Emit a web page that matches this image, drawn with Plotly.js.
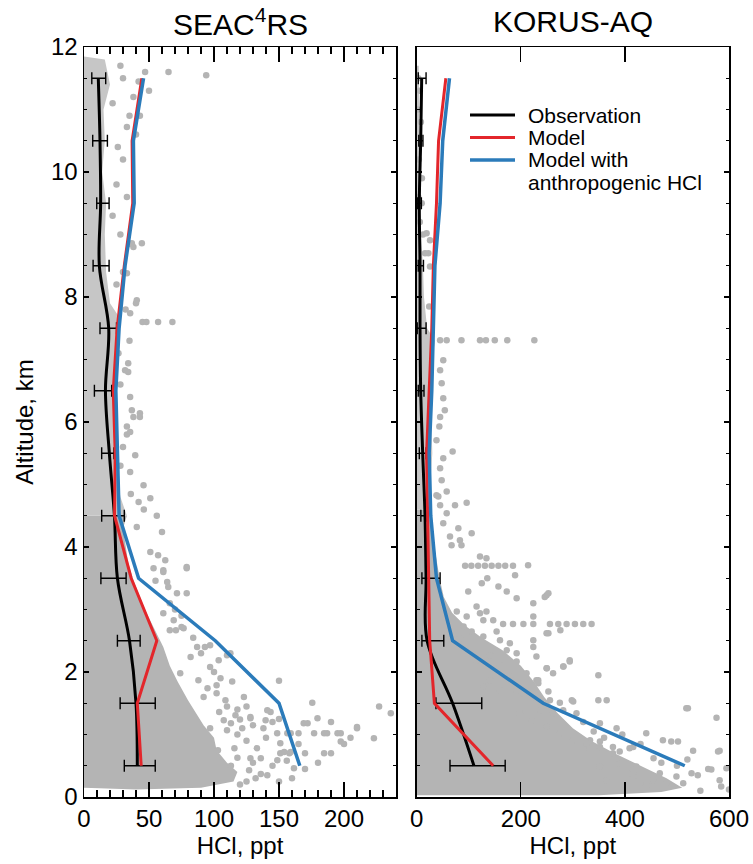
<!DOCTYPE html>
<html><head><meta charset="utf-8">
<script src="https://cdn.plot.ly/plotly-3.0.1.min.js"></script>
<style>body{margin:0;background:#fff}#chart{width:753px;height:864px}</style>
</head><body><div id="chart"></div>
<script>
// ---------- data ----------
const altLevels = [0.5, 1.5, 2.5, 3.5, 4.5, 5.5, 6.5, 7.5, 8.5, 9.5, 10.5, 11.5];

// SEAC4RS
const seacObs    = [41, 40, 35, 25.7, 23.4, 19.5, 16.5, 19, 11.8, 12.8, 12.3, 11];
const seacObsLo  = [31, 27.8, 25.7, 13, 13.6, 13.6, 8, 12.3, 7, 9.8, 6.7, 6];
const seacObsHi  = [54.8, 54.8, 43.2, 32.4, 31, 23, 21.3, 25, 19.3, 19.3, 18, 16.7];
const seacModel  = [44, 41, 56, 36.3, 23.5, 24, 22.5, 25.5, 31, 37.5, 37, 44.5];
const seacAnthro = [166, 150, 101, 42, 27, 26, 24.5, 27, 31.6, 38.6, 38, 45.8];

// KORUS-AQ
const korusObs    = [110, 69, 20, 18, 16, 11.5, 7.7, 6.4, 6.4, 5, 7.7, 9.6];
const korusObsLo  = [64, 37, 10, 10, 8, 5, 3, 1, 3, 2, 4, 3];
const korusObsHi  = [170, 125, 52, 45, 19, 18, 14, 18, 13, 9, 12, 18];
const korusModel  = [147, 34, 25, 23, 20, 19, 24, 29, 32, 38, 42, 56];
const korusAnthro = [515, 243, 69, 38, 27, 24, 29, 32, 35, 45, 50, 63];

// dense cores of the individual measurements (HCl ppt, altitude km)
const seacCoreLowX = [0, 40, 90, 115, 118, 110, 102, 100, 92, 86, 80, 72, 66, 61, 55, 48, 43, 38, 34, 32, 30, 33, 0];
const seacCoreLowY = [0.15, 0.12, 0.15, 0.25, 0.4, 0.55, 0.75, 0.95, 1.15, 1.35, 1.55, 1.85, 2.1, 2.4, 2.65, 2.95, 3.2, 3.47, 3.75, 4.0, 4.3, 4.5, 4.5];
const seacCoreHighX = [0, 33, 28, 25, 24, 25, 22, 24, 27, 28, 20, 17, 16, 17, 14, 16, 15, 20, 16, 0];
const seacCoreHighY = [4.5, 4.5, 4.8, 5.2, 5.6, 6.0, 6.5, 7.0, 7.4, 7.65, 7.9, 8.4, 9.0, 9.5, 10.0, 10.5, 11.0, 11.4, 11.8, 11.85];

const korusCoreLowX = [0, 350, 470, 510, 480, 430, 380, 335, 300, 270, 245, 225, 200, 165, 125, 92, 68, 52, 44, 38, 32, 26, 22, 0];
const korusCoreLowY = [0.03, 0.03, 0.08, 0.15, 0.3, 0.5, 0.7, 0.9, 1.1, 1.35, 1.6, 1.85, 2.1, 2.35, 2.55, 2.75, 2.95, 3.2, 3.5, 3.8, 4.1, 4.4, 4.6, 4.6];
const korusCoreHighX = [0, 22, 26, 30, 28, 26, 30, 35, 20, 14, 12, 8, 6, 5, 4, 0];
const korusCoreHighY = [4.6, 4.6, 5.0, 5.5, 6.0, 6.5, 7.0, 7.3, 7.5, 8.0, 8.5, 9.0, 10.0, 11.0, 11.7, 11.7];

// scattered individual measurements outside the cores
const seacPtsX = [47,65,94,50,42,38,30,28,22,35,40,26,30,25,33,22,28,35,38,30,25,40,32,45,57,68,48,35,34,34,28,35.5,43,38,33,33,30,39.4,35.5,28,45.8,51,42,36,60,40.6,46,56,
  43,33,36.8,44.5,33,40.6,35.5,26.5,31.6,36.8,43,35.5,
  51,57,62.5,79,53.5,61,64,55,71.5,66,61,69,75,66,87,93,82,110,97,74,88,114,150,102,95,102,123,141,128,107.5,113,97,121.7,138,172,179.6,148.6,159,165,177,187,195,210,223,227,175.6,151,158,170,151,136,141,127,113,115.7,103,
  236,210,190,169,156.4,184.7,197.5,197.5,154,159,184.7,190,148.7,156,161.5,136,116.5,128,120,139.7,143.5,110,118,133,128,118,108.8,104,112.6,103.6,97,76.6,70.7,79,64.8,61,79,125,132,
  70,75,84,90,100,105,92,110,118,125,130,145,150,125,140,130,145,120,150,160,170,180,165,200,205];
const seacPtsY = [11.6,11.6,11.55,11.3,11.45,11.2,11.5,11.7,11.1,10.9,10.6,10.4,10.2,9.8,9.6,9.3,9.0,8.85,8.8,8.4,8.2,7.9,7.8,7.6,7.6,7.6,7.6,7.3,6.94,6.8,6.6,6.4,6.08,6.08,5.93,5.8,5.6,5.47,5.2,5.3,4.99,4.78,4.72,4.85,4.24,4.32,4.6,4.5,
  10.9,10.72,8.86,8.86,8.38,7.95,7.74,7.1,6.83,6.19,6.14,5.84,
  3.92,3.87,3.79,3.66,3.66,3.6,3.44,3.46,3.26,3.1,2.94,2.83,2.72,2.67,2.4,2.4,2.24,2.27,2.08,1.98,1.87,1.85,1.86,1.79,1.74,1.66,1.6,1.39,1.26,1.23,1.18,1.1,1.1,1.1,1.18,1.26,1.02,1.02,1.02,1.02,1.02,1.02,1.1,0.94,1.45,1.51,0.7,0.7,0.7,0.86,0.62,0.35,0.43,0.5,0.78,0.75,
  1.34,1.12,1.2,1.18,1.02,1.02,1.02,0.89,0.72,0.72,0.7,0.7,0.59,0.58,0.46,0.37,1.31,1.28,1.24,1.23,1.36,1.07,1.0,0.78,0.62,0.63,1.55,1.36,2.3,2.19,2.43,2.7,2.67,3.26,3.36,3.63,3.68,0.25,0.3,
  3.0,2.9,2.55,2.3,2.0,1.9,1.6,1.45,1.4,1.45,1.15,1.2,1.25,0.9,0.95,0.55,0.5,0.2,0.25,0.3,0.45,0.55,0.85,0.85,0.95];

const korusPtsX = [3,6,2,8,4,10,3,6,12,9.6,19,25.6,22.4,16,25.6,24,
  45,57.6,86,121.6,133,150,174,226,
  51,45,48,51,54,45,43.5,38,69,51,45,48,57.6,41.6,
  96,73.6,45,38,57.6,51,80,64,105.6,83,86,67,121.6,134,
  93,105,118,131,144,157,170,185,214,
  189,135.6,125,157,173,99,192,249.5,253,246,224,121.6,128,153.5,
  166,185,205,224,256,272,288,304,320,336,
  249.5,224,179,224,192,294,249.5,281.5,262,349,230,233.6,192,300.7,349,365,281.5,307,352,384,441,521,576,416,473,502,531,582,566,528,499,582,585,441,365,416,
  224,253,276,230,282,294,250,233.5,253,298,518,489,579,595,467,422,390,409,377,352,333,320,
  77,96,115,134,147,90,105.6,128,83,160,173,141,115,160,192,211,179,141,160,128,205,224,256,275,237,262,198,221,249.5,275,300,326,352,377,390,352,416,454,480,512,
  320,340,360,395,430,455,470,500,540,560,600,545,520];
const korusPtsY = [11.5,11.3,11.0,10.8,10.2,9.9,9.6,9.2,9.0,9.5,9.02,8.91,8.7,8.7,8.49,7.85,
  7.31,7.31,7.31,7.31,7.31,7.31,7.31,7.31,
  6.99,6.83,6.62,6.38,6.19,6.08,5.93,5.71,5.53,5.42,5.26,5.07,4.89,4.81,
  4.71,4.67,4.67,4.83,4.54,4.38,4.3,4.17,4.22,4.11,4.03,4.03,3.85,3.82,
  3.7,3.7,3.7,3.7,3.7,3.7,3.7,3.7,3.71,
  3.55,3.5,3.42,3.37,3.29,3.29,3.18,3.23,3.26,3.2,3.1,2.94,2.83,2.65,
  2.77,2.77,2.77,2.77,2.77,2.77,2.77,2.77,2.77,2.77,
  2.62,2.89,2.46,2.4,2.3,2.17,2.06,2.09,1.98,1.95,1.87,1.82,1.71,1.53,1.55,1.55,1.39,1.34,1.18,1.1,1.02,1.42,1.27,0.8,0.91,0.89,0.74,0.74,0.44,0.38,0.33,0.27,0.17,0.19,0.27,0.43,
  2.51,2.62,2.67,2.25,2.09,2.19,2.06,1.87,1.69,1.55,1.42,0.89,0.73,0.46,0.38,0.49,0.73,0.78,0.8,0.89,0.91,0.78,
  2.97,2.89,3.05,2.97,2.83,2.73,2.65,2.57,2.54,2.51,2.35,2.27,2.19,2.11,2.17,1.98,1.93,1.87,1.71,1.77,1.66,1.6,1.55,1.51,1.39,1.34,1.34,1.23,1.13,1.02,0.91,0.86,0.8,0.7,0.54,0.49,0.33,0.27,0.22,0.22,
  1.2,1.05,0.95,1.0,0.85,0.62,0.55,0.5,0.35,0.45,0.12,0.1,0.6];

// ---------- styles ----------
const GRAY = '#b4b4b4', GRAY_LIGHT = '#c6c6c6';
const BLACK = '#000000', RED = '#e3262b', BLUE = '#2b7bba';
const FONT = 'Liberation Sans, Arial, sans-serif';

function panelTraces(xa, ya, d) {
  return [
    {x: d.coreLowX, y: d.coreLowY, xaxis: xa, yaxis: ya, mode: 'lines', fill: 'toself',
     fillcolor: GRAY, line: {width: 0, color: GRAY}, showlegend: false, hoverinfo: 'skip'},
    {x: d.coreHighX, y: d.coreHighY, xaxis: xa, yaxis: ya, mode: 'lines', fill: 'toself',
     fillcolor: GRAY_LIGHT, line: {width: 0, color: GRAY_LIGHT}, showlegend: false, hoverinfo: 'skip'},
    {x: d.ptsX, y: d.ptsY, xaxis: xa, yaxis: ya, mode: 'markers',
     marker: {size: 6.5, color: GRAY}, showlegend: false},
    {x: d.obs, y: altLevels, xaxis: xa, yaxis: ya, mode: 'lines', name: 'Observation',
     line: {color: BLACK, width: 3, shape: 'spline', smoothing: 1},
     error_x: {type: 'data', symmetric: false,
       array: d.obs.map((v, i) => d.hi[i] - v),
       arrayminus: d.obs.map((v, i) => v - d.lo[i]),
       color: BLACK, thickness: 1.4, width: 6}, showlegend: false},
    {x: d.model, y: altLevels, xaxis: xa, yaxis: ya, mode: 'lines', name: 'Model',
     line: {color: RED, width: 3}, showlegend: false},
    {x: d.anthro, y: altLevels, xaxis: xa, yaxis: ya, mode: 'lines', name: 'Model with anthropogenic HCl',
     line: {color: BLUE, width: 3.5}, showlegend: false}
  ];
}

const traces = [].concat(
  panelTraces('x', 'y', {coreLowX: seacCoreLowX, coreLowY: seacCoreLowY, coreHighX: seacCoreHighX, coreHighY: seacCoreHighY,
    ptsX: seacPtsX, ptsY: seacPtsY, obs: seacObs, lo: seacObsLo, hi: seacObsHi, model: seacModel, anthro: seacAnthro}),
  panelTraces('x2', 'y2', {coreLowX: korusCoreLowX, coreLowY: korusCoreLowY, coreHighX: korusCoreHighX, coreHighY: korusCoreHighY,
    ptsX: korusPtsX, ptsY: korusPtsY, obs: korusObs, lo: korusObsLo, hi: korusObsHi, model: korusModel, anthro: korusAnthro})
);

const W = 753, H = 864;
const yDom = [1 - 797 / H, 1 - 47 / H];
const axisCommon = {showline: true, linecolor: BLACK, linewidth: 1.5, mirror: 'ticks', showgrid: false, zeroline: false,
  ticks: 'inside', tickcolor: BLACK, tickwidth: 1.2, tickfont: {family: FONT, size: 24, color: BLACK}};

const layout = {
  width: W, height: H, margin: {l: 0, r: 0, t: 0, b: 0},
  paper_bgcolor: '#fff', plot_bgcolor: '#fff', showlegend: false,
  font: {family: FONT, color: BLACK},
  xaxis: Object.assign({}, axisCommon, {domain: [84 / W, 396 / W], range: [0, 240], dtick: 50, tick0: 0, ticklen: 15,
    minor: {dtick: 10, ticklen: 7, ticks: 'inside', tickcolor: BLACK, tickwidth: 1.2},
    title: {text: 'HCl, ppt', font: {family: FONT, size: 24, color: BLACK}, standoff: 4}, anchor: 'y'}),
  yaxis: Object.assign({}, axisCommon, {domain: yDom, range: [0, 12], dtick: 2, tick0: 0, ticklen: 5,
    minor: {dtick: 0.5, ticklen: 3, ticks: 'inside', tickcolor: BLACK, tickwidth: 1.2},
    title: {text: 'Altitude, km', font: {family: FONT, size: 24, color: BLACK}, standoff: 10}, anchor: 'x'}),
  xaxis2: Object.assign({}, axisCommon, {domain: [416.7 / W, 729 / W], range: [0, 600], dtick: 200, tick0: 0, ticklen: 15,
    title: {text: 'HCl, ppt', font: {family: FONT, size: 24, color: BLACK}, standoff: 4}, anchor: 'y2'}),
  yaxis2: Object.assign({}, axisCommon, {domain: yDom, range: [0, 12], dtick: 2, tick0: 0, ticklen: 5, showticklabels: false,
    minor: {dtick: 0.5, ticklen: 3, ticks: 'inside', tickcolor: BLACK, tickwidth: 1.2}, anchor: 'x2'}),
  annotations: [
    {text: 'SEAC<sup>4</sup>RS', xref: 'paper', yref: 'paper', x: 240 / W, y: 1 - 22 / H, xanchor: 'center', yanchor: 'middle',
     showarrow: false, font: {family: FONT, size: 30, color: BLACK}},
    {text: 'KORUS-AQ', xref: 'paper', yref: 'paper', x: 573 / W, y: 1 - 22 / H, xanchor: 'center', yanchor: 'middle',
     showarrow: false, font: {family: FONT, size: 30, color: BLACK}},
    {text: 'Observation', xref: 'paper', yref: 'paper', x: 526 / W, y: 1 - 115 / H, xanchor: 'left', yanchor: 'middle',
     showarrow: false, font: {family: FONT, size: 21, color: BLACK}},
    {text: 'Model', xref: 'paper', yref: 'paper', x: 526 / W, y: 1 - 137.5 / H, xanchor: 'left', yanchor: 'middle',
     showarrow: false, font: {family: FONT, size: 21, color: BLACK}},
    {text: 'Model with', xref: 'paper', yref: 'paper', x: 526 / W, y: 1 - 160 / H, xanchor: 'left', yanchor: 'middle',
     showarrow: false, font: {family: FONT, size: 21, color: BLACK}},
    {text: 'anthropogenic HCl', xref: 'paper', yref: 'paper', x: 526 / W, y: 1 - 182 / H, xanchor: 'left', yanchor: 'middle',
     showarrow: false, font: {family: FONT, size: 21, color: BLACK}}
  ],
  shapes: [
    {type: 'line', xref: 'paper', yref: 'paper', x0: 470 / W, x1: 515 / W, y0: 1 - 115 / H, y1: 1 - 115 / H, line: {color: BLACK, width: 3}},
    {type: 'line', xref: 'paper', yref: 'paper', x0: 470 / W, x1: 515 / W, y0: 1 - 137.5 / H, y1: 1 - 137.5 / H, line: {color: RED, width: 3}},
    {type: 'line', xref: 'paper', yref: 'paper', x0: 470 / W, x1: 515 / W, y0: 1 - 160 / H, y1: 1 - 160 / H, line: {color: BLUE, width: 3.5}}
  ]
};

Plotly.newPlot('chart', traces, layout, {staticPlot: true, displayModeBar: false});
</script></body></html>
